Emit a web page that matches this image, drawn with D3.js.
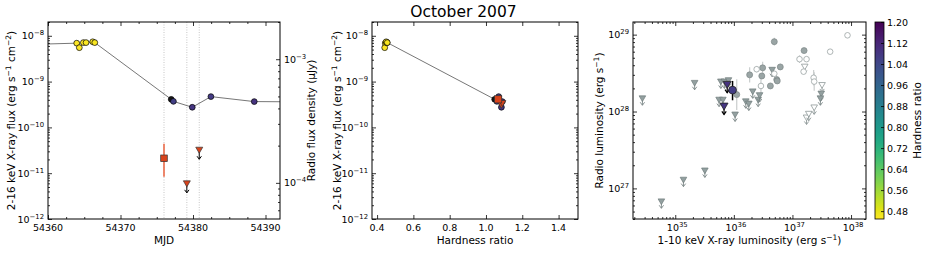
<!DOCTYPE html>
<html>
<head>
<meta charset="utf-8">
<script src="https://cdn.jsdelivr.net/npm/d3@7"></script>
<style>
body { margin: 0; background: #fff; }
text { font-family: "DejaVu Sans", sans-serif; fill: #000; }
</style>
</head>
<body>
<svg id="fig" width="927" height="253"></svg>
<script>
// ---- X-ray monitoring (panel 1 and 2) ----
var xrayMJD  = [54355.0, 54363.96, 54364.32, 54364.88, 54365.25, 54366.17, 54366.45, 54377.0, 54377.3, 54379.9, 54382.47, 54388.45, 54396.0];
var xrayFlux = [6.3e-9, 6.9e-9, 5.5e-9, 7.1e-9, 7.1e-9, 7.4e-9, 7.1e-9, 4.1e-10, 3.7e-10, 2.75e-10, 4.7e-10, 3.66e-10, 3.6e-10];
var xrayHR   = [-1, 0.445, 0.442, 0.452, 0.455, 0.450, 0.456, null, 1.06, 1.085, 1.07, 1.09, -1]; // -1: outside window

// ---- radio (panel 1) ----
var radioDetMJD  = [54376.0];
var radioDetFlux = [1.58e-4];
var radioDetLo   = [1.12e-4];
var radioDetHi   = [2.07e-4];
var radioUlMJD   = [54379.15, 54380.86];
var radioUlFlux  = [1.0e-4, 1.87e-4];
var radioObsMJD  = [54376.0, 54379.15, 54380.86];

// ---- radio epochs against hardness (panel 2) ----
var radioDetHR   = [1.067];
var radioDetXray = [4.1e-10];
var radioUlHR    = [1.085, 1.09];
var radioUlXray  = [3.2e-10, 3.5e-10];

// ---- this source in the Lx-Lr plane (panel 3) ----
var srcDetLx = [9.5e35], srcDetLr = [1.9e28], srcDetLrLo = [1.4e28], srcDetLrHi = [2.5e28], srcDetHR = [1.067];
var srcUlLx  = [6.8e35, 7.7e35], srcUlLr = [1.2e28, 2.3e28], srcUlHR = [1.085, 1.09];

// ---- comparison sample (panel 3) ----
var ulLx = [2.75e34, 2.14e35, 5.6e35, 6.5e35, 6.0e35, 6.9e35, 8.1e35, 1.05e36, 2.1e36, 1.6e36, 1.8e36, 2.6e36, 2.75e36, 4.5e36, 3.1e37, 3.0e37, 5.8e34, 1.38e35, 3.2e35];
var ulLr = [1.51e28, 2.4e28, 1.45e28, 1.45e28, 2.5e28, 2.5e28, 2.6e28, 9.3e27, 1.86e28, 1.38e28, 1.29e28, 1.45e28, 1.66e28, 3.55e28, 1.74e28, 1.51e28, 6.9e26, 1.32e27, 1.74e27];
var ulOpenLx = [1.62e37, 1.74e37, 1.9e37, 2.35e37, 3.2e37];
var ulOpenLr = [3.9e28, 8.5e27, 9.5e27, 1.15e28, 2.25e28];
var detLx  = [1.12e36, 1.86e36, 3.1e36, 3.0e36, 4.2e36, 4.9e36, 5.4e36, 5.5e36, 6.2e36, 1.58e37];
var detLr  = [1.66e28, 3.0e28, 3.7e28, 2.9e28, 2.15e28, 8.1e28, 2.6e28, 2.5e28, 3.8e28, 6.2e28];
var detErr = [0.2, 0.1, 0.08, 0.04, 0.04, 0.05, 0.04, 0.03, 0.04, 0.03];   // dex
var detOpenLx  = [2.45e36, 2.9e36, 4.9e36, 1.32e37, 1.55e37, 1.74e37, 2.3e37, 2.35e37, 4.4e37, 8.7e37];
var detOpenLr  = [3.55e28, 2.15e28, 3.1e28, 4.8e28, 3.3e28, 4.8e28, 2.75e28, 2.45e28, 6.0e28, 9.8e28];
var detOpenErr = [0.04, 0.1, 0.04, 0.05, 0.03, 0.03, 0.1, 0.12, 0.03, 0.02];

// ---- tick labels ----
var mjdTicks = [54360, 54370, 54380, 54390];
var hrTicks  = [0.4, 0.6, 0.8, 1.0, 1.2, 1.4];
var cbTicks  = [0.48, 0.56, 0.64, 0.72, 0.80, 0.88, 0.96, 1.04, 1.12, 1.20];
var hrRange  = [0.45, 1.20];

var svg = d3.select('#fig');
var minus = '\u2212';

function hrColor(hr) {
    if (hr === null) return '#161616';
    var t = (hr - hrRange[0]) / (hrRange[1] - hrRange[0]);
    return d3.interpolateViridis(1 - Math.max(0, Math.min(1, t)));
}

function logTicks(dom) {
    var lo = Math.min(dom[0], dom[1]), hi = Math.max(dom[0], dom[1]);
    var major = [], minor = [];
    for (var e = Math.floor(Math.log10(lo)); e <= Math.ceil(Math.log10(hi)); e++) {
        for (var m = 1; m < 10; m++) {
            var v = m * Math.pow(10, e);
            if (v < lo * 0.999 || v > hi * 1.001) continue;
            if (m === 1) major.push(v); else minor.push(v);
        }
    }
    return {major: major, minor: minor};
}

function ticks(axisFn, scale, values, size, tr) {
    svg.append('g').attr('transform', tr)
        .call(axisFn(scale).tickValues(values).tickSize(-size).tickFormat(''))
        .call(function (a) {
            a.select('.domain').remove();
            a.selectAll('line').attr('stroke', '#000').attr('stroke-width', 0.8);
        });
}

// text with superscripts: parts = [[str, isSup], ...]
function rich(t, parts) {
    var up = false;
    parts.forEach(function (p) {
        var ts = t.append('tspan').text(p[0]);
        if (p[1] && !up) { ts.attr('dy', -4).attr('font-size', '0.72em'); up = true; }
        else if (p[1]) ts.attr('font-size', '0.72em');
        else if (up) { ts.attr('dy', 4); up = false; }
    });
    return t;
}

function pow10Label(v) {
    var e = Math.round(Math.log10(v));
    return [['10', 0], [(e < 0 ? minus + (-e) : '' + e), 1]];
}

function frame(p) {
    svg.append('rect').attr('x', p.l).attr('y', p.t).attr('width', p.r - p.l).attr('height', p.b - p.t)
        .attr('fill', 'none').attr('stroke', '#000').attr('stroke-width', 1);
}

function yLogLabels(scale, vals, x, anchor) {
    vals.forEach(function (v) {
        rich(svg.append('text').attr('x', x).attr('y', scale(v) + 3.5).attr('font-size', 9.5)
            .attr('text-anchor', anchor), pow10Label(v));
    });
}

function yTitle(x, cy, parts, fs) {
    rich(svg.append('text').attr('transform', 'translate(' + x + ',' + cy + ') rotate(-90)')
        .attr('text-anchor', 'middle').attr('font-size', fs || 10.5), parts);
}

function tri(g, x, y, side, fill, stroke, sw) {
    g.append('path').attr('d', d3.symbol(d3.symbolTriangle, side * side * Math.sqrt(3) / 4)())
        .attr('transform', 'translate(' + x + ',' + y + ') rotate(180)')
        .attr('fill', fill).attr('stroke', stroke).attr('stroke-width', sw);
}

function arrow(g, x, y, len, color, w) {
    g.append('line').attr('x1', x).attr('x2', x).attr('y1', y).attr('y2', y + len)
        .attr('stroke', color).attr('stroke-width', w);
    g.append('path').attr('d', 'M' + (x - 2.2) + ',' + (y + len - 3) + 'L' + x + ',' + (y + len) + 'L' + (x + 2.2) + ',' + (y + len - 3))
        .attr('fill', 'none').attr('stroke', color).attr('stroke-width', w);
}

// =================== panel 1: light curve ===================
var p1 = {l: 48, r: 280, t: 22, b: 219};
var x1 = d3.scaleLinear().domain([54360, 54392]).range([p1.l, p1.r]);
var y1 = d3.scaleLog().domain([1e-12, 2e-8]).range([p1.b, p1.t]);
var y1r = d3.scaleLog().domain([5.1e-5, 2.0e-3]).range([p1.b, p1.t]);

svg.append('clipPath').attr('id', 'clip1').append('rect')
    .attr('x', p1.l).attr('y', p1.t).attr('width', p1.r - p1.l).attr('height', p1.b - p1.t);
var g1 = svg.append('g').attr('clip-path', 'url(#clip1)');

radioObsMJD.forEach(function (m) {
    g1.append('line').attr('x1', x1(m)).attr('x2', x1(m)).attr('y1', p1.t).attr('y2', p1.b)
        .attr('stroke', '#b8b8b8').attr('stroke-width', 0.8).attr('stroke-dasharray', '1,1.5');
});

g1.append('path').datum(d3.range(xrayMJD.length))
    .attr('d', d3.line().x(function (i) { return x1(xrayMJD[i]); }).y(function (i) { return y1(xrayFlux[i]); }))
    .attr('fill', 'none').attr('stroke', '#777').attr('stroke-width', 1);

xrayMJD.forEach(function (m, i) {
    if (xrayHR[i] === -1) return;
    g1.append('circle').attr('cx', x1(m)).attr('cy', y1(xrayFlux[i])).attr('r', 2.9)
        .attr('fill', hrColor(xrayHR[i])).attr('stroke', '#000').attr('stroke-width', 0.7);
});

radioDetMJD.forEach(function (m, i) {
    g1.append('line').attr('x1', x1(m)).attr('x2', x1(m))
        .attr('y1', y1r(radioDetLo[i])).attr('y2', y1r(radioDetHi[i]))
        .attr('stroke', '#ec7b5d').attr('stroke-width', 1.8);
    g1.append('rect').attr('x', x1(m) - 3.3).attr('y', y1r(radioDetFlux[i]) - 3.3).attr('width', 6.6).attr('height', 6.6)
        .attr('fill', '#d8431c').attr('stroke', '#333').attr('stroke-width', 0.7);
});
radioUlMJD.forEach(function (m, i) {
    arrow(g1, x1(m), y1r(radioUlFlux[i]), 10, '#000', 1);
    tri(g1, x1(m), y1r(radioUlFlux[i]), 7, '#d8431c', '#333', 0.7);
});

frame(p1);
var t1 = logTicks(y1.domain()), t1r = logTicks(y1r.domain());
var mjdMinor = d3.range(54360, 54392.01, 2.5).filter(function (v) { return mjdTicks.indexOf(v) < 0; });
ticks(d3.axisBottom, x1, mjdTicks, 4, 'translate(0,' + p1.b + ')');
ticks(d3.axisBottom, x1, mjdMinor, 2, 'translate(0,' + p1.b + ')');
ticks(d3.axisTop, x1, mjdTicks, 4, 'translate(0,' + p1.t + ')');
ticks(d3.axisTop, x1, mjdMinor, 2, 'translate(0,' + p1.t + ')');
ticks(d3.axisLeft, y1, t1.major, 4, 'translate(' + p1.l + ',0)');
ticks(d3.axisLeft, y1, t1.minor, 2, 'translate(' + p1.l + ',0)');
ticks(d3.axisRight, y1r, t1r.major, 4, 'translate(' + p1.r + ',0)');
ticks(d3.axisRight, y1r, t1r.minor, 2, 'translate(' + p1.r + ',0)');

mjdTicks.forEach(function (m) {
    svg.append('text').attr('x', x1(m)).attr('y', 231).attr('font-size', 9.5).attr('text-anchor', 'middle').text(m);
});
yLogLabels(y1, t1.major, 44, 'end');
yLogLabels(y1r, t1r.major, 284, 'start');
svg.append('text').attr('x', (p1.l + p1.r) / 2).attr('y', 244).attr('font-size', 10.5).attr('text-anchor', 'middle').text('MJD');
yTitle(15, (p1.t + p1.b) / 2, [['2-16 keV X-ray flux (erg s', 0], [minus + '1', 1], [' cm', 0], [minus + '2', 1], [')', 0]]);
yTitle(315, (p1.t + p1.b) / 2, [['Radio flux density (\u03bcJy)', 0]]);

// =================== panel 2: flux vs hardness ===================
var p2 = {l: 372, r: 578, t: 22, b: 219};
var x2 = d3.scaleLinear().domain([0.372, 1.507]).range([p2.l, p2.r]);
var y2 = d3.scaleLog().domain([1e-12, 2e-8]).range([p2.b, p2.t]);
var g2 = svg.append('g');

var inWin = d3.range(xrayMJD.length).filter(function (i) { return xrayHR[i] !== -1; });
g2.append('path').datum(inWin)
    .attr('d', d3.line().x(function (i) { return x2(xrayHR[i] === null ? 1.048 : xrayHR[i]); }).y(function (i) { return y2(xrayFlux[i]); }))
    .attr('fill', 'none').attr('stroke', '#777').attr('stroke-width', 1);
inWin.forEach(function (i) {
    g2.append('circle').attr('cx', x2(xrayHR[i] === null ? 1.048 : xrayHR[i])).attr('cy', y2(xrayFlux[i])).attr('r', 2.9)
        .attr('fill', hrColor(xrayHR[i])).attr('stroke', '#000').attr('stroke-width', 0.7);
});
radioUlHR.forEach(function (h, i) {
    tri(g2, x2(h), y2(radioUlXray[i]), 7, '#d8431c', '#333', 0.7);
});
radioDetHR.forEach(function (h, i) {
    g2.append('rect').attr('x', x2(h) - 3.6).attr('y', y2(radioDetXray[i]) - 3.6).attr('width', 7.2).attr('height', 7.2)
        .attr('fill', '#d8431c').attr('stroke', '#333').attr('stroke-width', 0.7);
});

frame(p2);
var t2 = logTicks(y2.domain());
ticks(d3.axisBottom, x2, hrTicks, 4, 'translate(0,' + p2.b + ')');
ticks(d3.axisTop, x2, hrTicks, 4, 'translate(0,' + p2.t + ')');
ticks(d3.axisLeft, y2, t2.major, 4, 'translate(' + p2.l + ',0)');
ticks(d3.axisLeft, y2, t2.minor, 2, 'translate(' + p2.l + ',0)');
ticks(d3.axisRight, y2, t2.major, 4, 'translate(' + p2.r + ',0)');
ticks(d3.axisRight, y2, t2.minor, 2, 'translate(' + p2.r + ',0)');
hrTicks.forEach(function (h) {
    svg.append('text').attr('x', x2(h)).attr('y', 231).attr('font-size', 9.5).attr('text-anchor', 'middle').text(h.toFixed(1));
});
yLogLabels(y2, t2.major, 368, 'end');
svg.append('text').attr('x', (p2.l + p2.r) / 2).attr('y', 244).attr('font-size', 10.5).attr('text-anchor', 'middle').text('Hardness ratio');
yTitle(341, (p2.t + p2.b) / 2, [['2-16 keV X-ray flux (erg s', 0], [minus + '1', 1], [' cm', 0], [minus + '2', 1], [')', 0]]);

svg.append('text').attr('x', 463.5).attr('y', 17).attr('font-size', 15.5).attr('text-anchor', 'middle').text('October 2007');

// =================== panel 3: Lx - Lr ===================
var p3 = {l: 633, r: 866, t: 22, b: 219};
var x3 = d3.scaleLog().domain([1.9e34, 1.8e38]).range([p3.l, p3.r]);
var y3 = d3.scaleLog().domain([4.0e26, 1.46e29]).range([p3.b, p3.t]);
svg.append('clipPath').attr('id', 'clip3').append('rect')
    .attr('x', p3.l).attr('y', p3.t).attr('width', p3.r - p3.l).attr('height', p3.b - p3.t);
var g3 = svg.append('g').attr('clip-path', 'url(#clip3)');

function errBar(lx, lr, dex) {
    g3.append('line').attr('x1', x3(lx)).attr('x2', x3(lx))
        .attr('y1', y3(lr * Math.pow(10, -dex))).attr('y2', y3(lr * Math.pow(10, dex)))
        .attr('stroke', '#c9cdcd').attr('stroke-width', 1.2);
}
detLx.forEach(function (v, i) { errBar(v, detLr[i], detErr[i]); });
detOpenLx.forEach(function (v, i) { errBar(v, detOpenLr[i], detOpenErr[i]); });

ulLx.forEach(function (v, i) {
    arrow(g3, x3(v), y3(ulLr[i]), 7.5, '#7d8888', 0.9);
    tri(g3, x3(v), y3(ulLr[i]), 6.6, '#93a0a0', '#6f7b7b', 0.7);
});
ulOpenLx.forEach(function (v, i) {
    arrow(g3, x3(v), y3(ulOpenLr[i]), 7.5, '#8f9999', 0.9);
    tri(g3, x3(v), y3(ulOpenLr[i]), 6.6, '#fff', '#8f9999', 0.8);
});
detLx.forEach(function (v, i) {
    g3.append('circle').attr('cx', x3(v)).attr('cy', y3(detLr[i])).attr('r', 3)
        .attr('fill', '#9aa5a5').attr('stroke', '#7c8787').attr('stroke-width', 0.7);
});
detOpenLx.forEach(function (v, i) {
    g3.append('circle').attr('cx', x3(v)).attr('cy', y3(detOpenLr[i])).attr('r', 2.8)
        .attr('fill', '#fff').attr('stroke', '#9aa3a3').attr('stroke-width', 0.8);
});

srcUlLx.forEach(function (v, i) {
    arrow(g3, x3(v), y3(srcUlLr[i]), 9, '#000', 1.2);
    tri(g3, x3(v), y3(srcUlLr[i]), 8, hrColor(srcUlHR[i]), '#222', 0.8);
});
srcDetLx.forEach(function (v, i) {
    g3.append('line').attr('x1', x3(v)).attr('x2', x3(v)).attr('y1', y3(srcDetLrLo[i])).attr('y2', y3(srcDetLrHi[i]))
        .attr('stroke', '#000').attr('stroke-width', 1.5);
    g3.append('circle').attr('cx', x3(v)).attr('cy', y3(srcDetLr[i])).attr('r', 3.9)
        .attr('fill', hrColor(srcDetHR[i])).attr('stroke', '#222').attr('stroke-width', 0.8);
});

frame(p3);
var t3x = logTicks(x3.domain()), t3y = logTicks(y3.domain());
ticks(d3.axisBottom, x3, t3x.major, 4, 'translate(0,' + p3.b + ')');
ticks(d3.axisBottom, x3, t3x.minor, 2, 'translate(0,' + p3.b + ')');
ticks(d3.axisTop, x3, t3x.major, 4, 'translate(0,' + p3.t + ')');
ticks(d3.axisTop, x3, t3x.minor, 2, 'translate(0,' + p3.t + ')');
ticks(d3.axisLeft, y3, t3y.major, 4, 'translate(' + p3.l + ',0)');
ticks(d3.axisLeft, y3, t3y.minor, 2, 'translate(' + p3.l + ',0)');
ticks(d3.axisRight, y3, t3y.major, 4, 'translate(' + p3.r + ',0)');
ticks(d3.axisRight, y3, t3y.minor, 2, 'translate(' + p3.r + ',0)');
t3x.major.forEach(function (v) {
    rich(svg.append('text').attr('x', x3(v) + 2).attr('y', 231).attr('font-size', 9.5).attr('text-anchor', 'middle'), pow10Label(v));
});
yLogLabels(y3, t3y.major, 629, 'end');
rich(svg.append('text').attr('x', (p3.l + p3.r) / 2).attr('y', 244).attr('font-size', 10.5).attr('text-anchor', 'middle'),
    [['1-10 keV X-ray luminosity (erg s', 0], [minus + '1', 1], [')', 0]]);
yTitle(603, (p3.t + p3.b) / 2, [['Radio luminosity (erg s', 0], [minus + '1', 1], [')', 0]]);

// =================== colour bar ===================
var cb = {l: 875, r: 884, t: 22, b: 219};
var yc = d3.scaleLinear().domain(hrRange).range([cb.b, cb.t]);
var grad = svg.append('defs').append('linearGradient').attr('id', 'cbgrad')
    .attr('x1', 0).attr('y1', 1).attr('x2', 0).attr('y2', 0);
d3.range(0, 1.0001, 0.05).forEach(function (s) {
    grad.append('stop').attr('offset', s).attr('stop-color', hrColor(hrRange[0] + s * (hrRange[1] - hrRange[0])));
});
svg.append('rect').attr('x', cb.l).attr('y', cb.t).attr('width', cb.r - cb.l).attr('height', cb.b - cb.t)
    .attr('fill', 'url(#cbgrad)').attr('stroke', '#000').attr('stroke-width', 0.8);
ticks(d3.axisRight, yc, cbTicks, 3, 'translate(' + cb.r + ',0)');
cbTicks.forEach(function (h) {
    svg.append('text').attr('x', 887).attr('y', yc(h) + 3.5).attr('font-size', 9.5).text(h.toFixed(2));
});
yTitle(921, (cb.t + cb.b) / 2, [['Hardness ratio', 0]]);
</script>
</body>
</html>
